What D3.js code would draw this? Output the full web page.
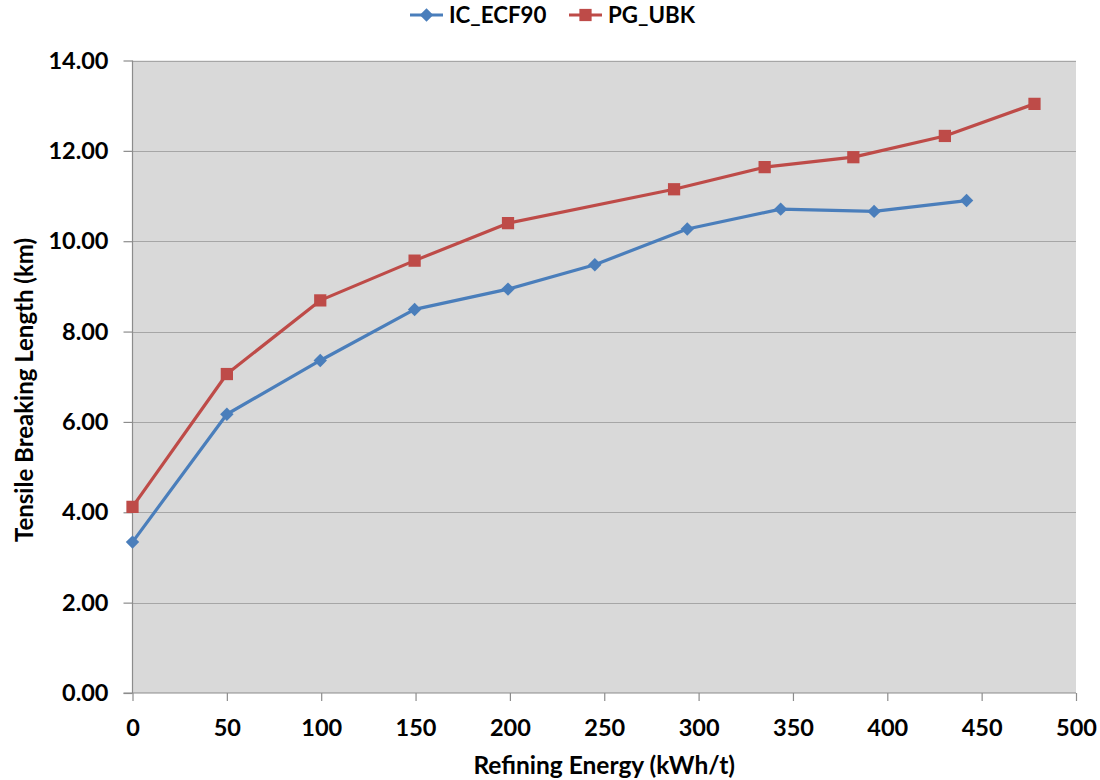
<!DOCTYPE html>
<html><head><meta charset="utf-8">
<script src="https://cdn.jsdelivr.net/npm/d3@7"></script>
<style>body{margin:0;background:#fff;} text{font-family:Lato,"Open Sans",sans-serif;font-weight:bold;fill:#000;}</style>
</head><body><svg id="c" width="1100" height="780"></svg>
<script>
const seriesNames = ["IC_ECF90", "PG_UBK"];
const icX = [0, 50, 99.5, 149.5, 199, 245, 294, 343.5, 393, 442];
const icY = [3.34, 6.17, 7.36, 8.49, 8.94, 9.48, 10.27, 10.71, 10.66, 10.90];
const pgX = [0, 50, 99.5, 149.5, 199, 287, 335, 382, 430.5, 478];
const pgY = [4.12, 7.06, 8.69, 9.57, 10.40, 11.15, 11.64, 11.86, 12.33, 13.04];
const xTicks = [0, 50, 100, 150, 200, 250, 300, 350, 400, 450, 500];
const yTicks = [0, 2, 4, 6, 8, 10, 12, 14];
const colors = ["#4a7ebb", "#be4b48"];

const svg = d3.select("#c");
const L = 132.5, R = 1076, T = 60.5, B = 693;
const x = d3.scaleLinear().domain([0, 500]).range([L, R]);
const y = d3.scaleLinear().domain([0, 14]).range([B, T]);

svg.append("rect").attr("x", L).attr("y", T).attr("width", R - L).attr("height", B - T).attr("fill", "#d9d9d9");

// gridlines
svg.append("g").selectAll("line").data(yTicks.filter(d => d > 0)).join("line")
  .attr("x1", L).attr("x2", R).attr("y1", d => Math.round(y(d)) + 0.5).attr("y2", d => Math.round(y(d)) + 0.5)
  .attr("stroke", "#a6a6a6").attr("stroke-width", 1.2);

// y axis
const ya = svg.append("g").attr("transform", `translate(${L},0)`)
  .call(d3.axisLeft(y).tickValues(yTicks).tickFormat(d3.format(".2f")).tickSize(9).tickPadding(15));
ya.select(".domain").attr("stroke", "#8c8c8c").attr("stroke-width", 1.2).attr("d", `M0,${T}V${B}`);
ya.selectAll(".tick line").attr("stroke", "#8c8c8c").attr("stroke-width", 1.2);
ya.selectAll(".tick text").attr("font-size", 23.5).attr("font-family", "Lato").attr("font-weight", "bold").attr("fill", "#000");

// x axis
const xa = svg.append("g").attr("transform", `translate(0,${B})`)
  .call(d3.axisBottom(x).tickValues(xTicks).tickSize(8).tickPadding(18));
xa.select(".domain").attr("stroke", "#8c8c8c").attr("stroke-width", 1.2).attr("d", `M${L - 9},0H${R}`);
xa.selectAll(".tick line").attr("stroke", "#8c8c8c").attr("stroke-width", 1.2);
xa.selectAll(".tick text").attr("font-size", 23.5).attr("font-family", "Lato").attr("font-weight", "bold").attr("fill", "#000");

// axis titles
svg.append("text").attr("x", (L + R) / 2).attr("y", 774).attr("text-anchor", "middle").attr("font-size", 24.5).text("Refining Energy (kWh/t)");
svg.append("text").attr("transform", `translate(33,390) rotate(-90)`).attr("text-anchor", "middle").attr("font-size", 24).text("Tensile Breaking Length (km)");

const data = [icX.map((v, i) => [v, icY[i]]), pgX.map((v, i) => [v, pgY[i]])];
const line = d3.line().x(d => x(d[0])).y(d => y(d[1]));
const diamondPath = d3.symbol().type(d3.symbolSquare).size(90)();
const squarePath = d3.symbol().type(d3.symbolSquare).size(150)();

data.forEach((ser, k) => {
  svg.append("path").attr("d", line(ser)).attr("fill", "none").attr("stroke", colors[k]).attr("stroke-width", 3.2).attr("stroke-linejoin", "round");
  svg.append("g").selectAll("path").data(ser).join("path")
    .attr("d", k === 0 ? diamondPath : squarePath)
    .attr("transform", d => `translate(${x(d[0])},${y(d[1])})` + (k === 0 ? " rotate(45)" : ""))
    .attr("fill", colors[k]);
});

// legend
const leg = [{ x: 410, name: seriesNames[0] }, { x: 569, name: seriesNames[1] }];
leg.forEach((l, k) => {
  const g = svg.append("g").attr("transform", `translate(${l.x},15)`);
  g.append("line").attr("x1", 0).attr("x2", 33).attr("stroke", colors[k]).attr("stroke-width", 3.2);
  g.append("path").attr("d", k === 0 ? diamondPath : squarePath)
    .attr("transform", `translate(16.5,0)` + (k === 0 ? " rotate(45)" : "")).attr("fill", colors[k]);
  g.append("text").attr("x", 39).attr("y", 8).attr("font-size", 22.3).text(l.name);
});
</script></body></html>
